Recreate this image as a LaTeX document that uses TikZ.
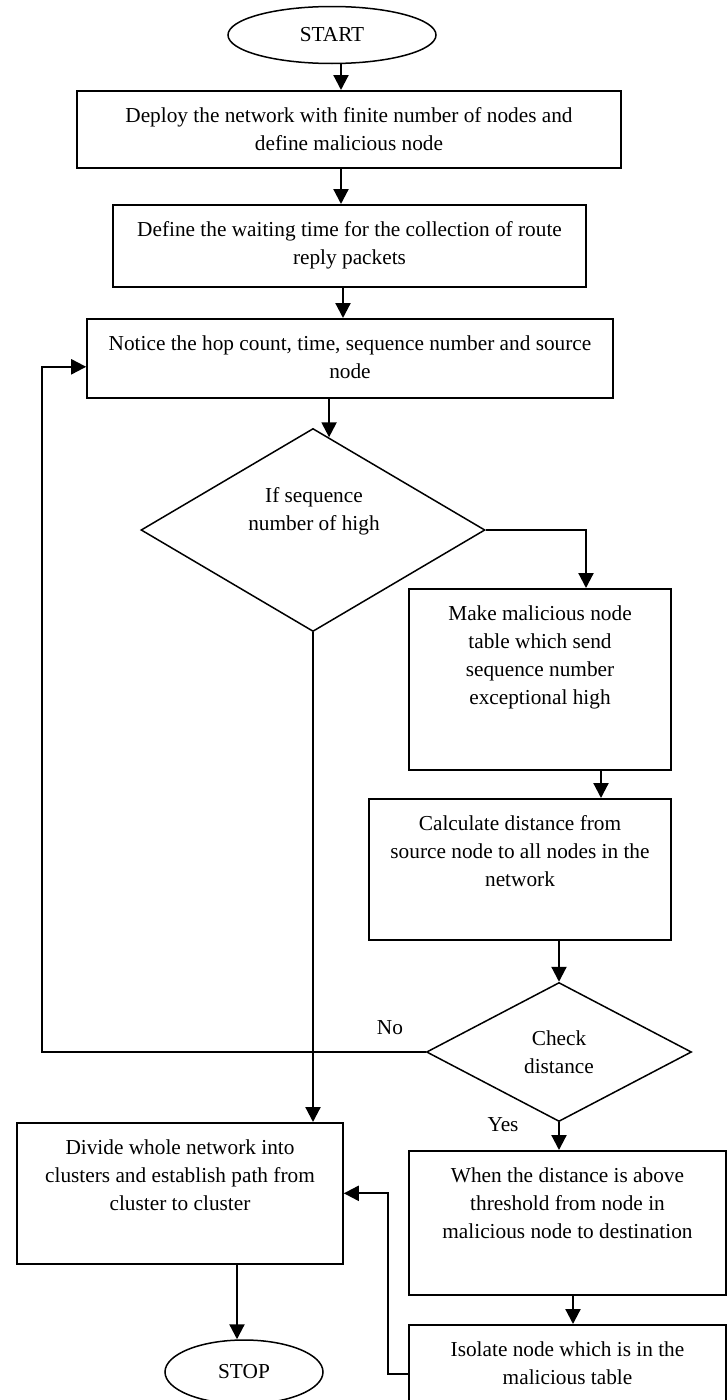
\documentclass[tikz,border=0pt]{standalone}
\usepackage{fontspec}
\setmainfont{Liberation Serif}
\usetikzlibrary{arrows.meta,shapes.geometric,calc,positioning}

\newcommand{\boxtext}[3]{\parbox[c][#2][t]{#1}{\centering #3}}

\begin{document}
\begin{tikzpicture}[x=1pt,y=-1pt,
  every node/.style={font=\fontsize{21.3}{28}\selectfont},
  procbox/.style={draw, line width=1.6pt, anchor=north, inner xsep=0pt, inner ysep=16.5pt},
  terminal/.style={draw, ellipse, line width=1.5pt, inner sep=0pt},
  decision/.style={draw, diamond, line width=1.5pt, inner sep=0pt},
  arr/.style={line width=2.2pt, -{Triangle[width=15pt,length=15pt]}}]
  \useasboundingbox (0,0) rectangle (727,1400);

  % Inicio
  \node[terminal, minimum width=208pt, minimum height=57pt] (start) at (332,35) {START};

  % Pasos superiores
  \node[procbox] (deploy) at (349,90) {\boxtext{544pt}{44pt}{Deploy the network with finite number of nodes and\\define malicious node}};
  \node[procbox] (wait) at (349.5,204) {\boxtext{473pt}{49pt}{Define the waiting time for the collection of route\\reply packets}};
  \node[procbox] (notice) at (350,318) {\boxtext{526pt}{46pt}{Notice the hop count, time, sequence number and source\\node}};

  % Primera decision
  \node[decision, minimum width=344pt, minimum height=203pt] (ifseq) at (313,530) {};
  \node[align=center] (ifseqtext) at (314,511) {If sequence\\number of high};

  % Rama derecha
  \node[procbox] (make) at (540,588) {\boxtext{262pt}{148pt}{Make malicious node\\table which send\\sequence number\\exceptional high}};
  \node[procbox] (calc) at (520,798) {\boxtext{302pt}{108pt}{Calculate distance from\\source node to all nodes in the\\network}};
  \node[decision, minimum width=265pt, minimum height=139pt, align=center] (check) at (559,1052) {Check\\distance};
  \node (nolabel) at (390,1028) {No};
  \node (yeslabel) at (503,1125) {Yes};
  \node[procbox] (when) at (567.5,1150) {\boxtext{317pt}{111pt}{When the distance is above\\threshold from node in\\malicious node to destination}};
  \node[procbox] (isolate) at (567.5,1324) {\boxtext{317pt}{47pt}{Isolate node which is in the\\malicious table}};

  % Rama izquierda
  \node[procbox] (divide) at (180,1122) {\boxtext{326pt}{108pt}{Divide whole network into\\clusters and establish path from\\cluster to cluster}};
  \node[terminal, minimum width=158pt, minimum height=64pt] (stop) at (244,1372) {STOP};

  % Flechas principales
  \coordinate (s1) at ([xshift=9pt]start.south);
  \draw[arr] (s1) -- (s1 |- deploy.north);
  \coordinate (s2) at ([xshift=-8pt]deploy.south);
  \draw[arr] (s2) -- (s2 |- wait.north);
  \coordinate (s3) at ([xshift=-6.5pt]wait.south);
  \draw[arr] (s3) -- (s3 |- notice.north);
  \coordinate (s4) at ($(ifseq.north)!0.093!(ifseq.east)$);
  \draw[arr] (s4 |- notice.south) -- (s4);
  \draw[arr] (ifseq.east) -| ([xshift=46pt]make.north);
  \coordinate (s6) at ([xshift=61pt]make.south);
  \draw[arr] (s6) -- (s6 |- calc.north);
  \draw[arr] (check.north |- calc.south) -- (check.north);
  \draw[arr] (check.south) -- (check.south |- when.north);
  \coordinate (s9) at ([xshift=5.5pt]when.south);
  \draw[arr] (s9) -- (s9 |- isolate.north);
  \draw[arr] (ifseq.south) -- (ifseq.south |- divide.north);
  \coordinate (s13) at ([xshift=57pt]divide.south);
  \draw[arr] (s13) -- (s13 |- stop.north);

  % Retornos
  \draw[arr] (check.west) -- ++(-383.5,0) |- ([yshift=-8.5pt]notice.west);
  \draw[arr] ([yshift=-9pt]isolate.west) -- ++(-20,0) |- (divide.east);
\end{tikzpicture}
\end{document}
